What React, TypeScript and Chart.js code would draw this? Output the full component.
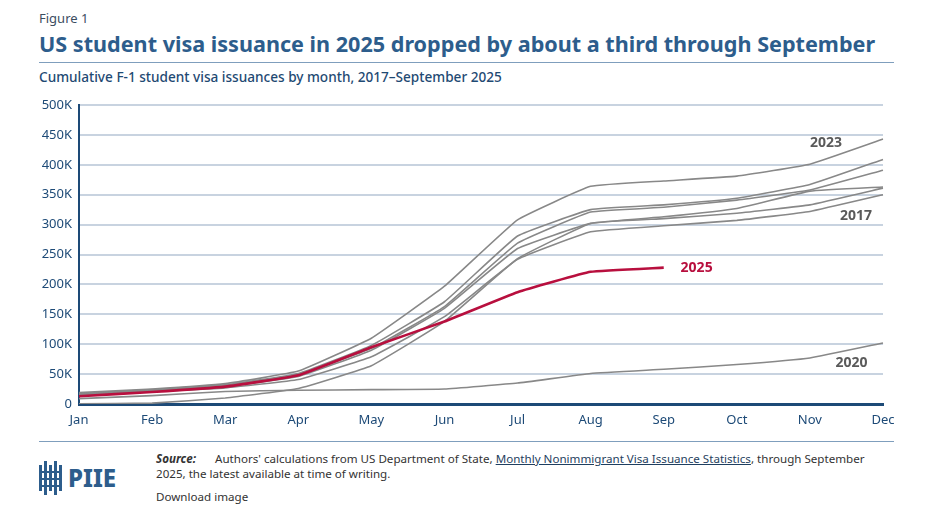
import { useEffect, useRef } from "react";
import { Chart, registerables } from "chart.js";

Chart.register(...registerables);

// Months on the x axis
const months = ["Jan", "Feb", "Mar", "Apr", "May", "Jun", "Jul", "Aug", "Sep", "Oct", "Nov", "Dec"];

// Y-axis tick values (visas)
const yTickValues = [0, 50000, 100000, 150000, 200000, 250000, 300000, 350000, 400000, 450000, 500000];

// Cumulative F-1 issuances, thousands
const y2017 = [15, 21, 27, 41, 79, 146, 242, 288, 298, 307, 322, 350];
const y2019 = [16, 22, 29, 46, 90, 160, 260, 302, 313, 327, 356, 363];
const y2020 = [9, 14, 21, 23, 24, 25, 35, 51, 58, 66, 77, 102];
const y2021 = [0.5, 1.5, 10, 26, 64, 138, 243, 302, 310, 319, 333, 361];
const y2022 = [17, 24, 32, 51, 98, 171, 281, 325, 333, 344, 367, 409];
const y2023 = [19, 25, 34, 55, 110, 197, 308, 364, 373, 381, 401, 443];
const y2024 = [17, 23, 31, 49, 93, 163, 269, 321, 329, 341, 358, 391];
const y2025 = [13, 20, 29, 48, 95, 138, 187, 221, 228];

const pastYears: [string, number[]][] = [
  ["2017", y2017],
  ["2019", y2019],
  ["2020", y2020],
  ["2021", y2021],
  ["2022", y2022],
  ["2023", y2023],
  ["2024", y2024],
];

// Direct labels next to selected lines: [text, month position, value in thousands, highlight]
const lineLabels: [string, number, number, boolean][] = [
  ["2023", 10.22, 436, false],
  ["2017", 10.63, 314, false],
  ["2025", 8.45, 227, true],
  ["2020", 10.57, 69, false],
];

const NAVY = "#1d4a77";
const TITLE_BLUE = "#2d5d8c";
const GRAY = "#888888";
const RED = "#b80f3e";
const FONT = "'Noto Sans', sans-serif";

const lineLabelPlugin = {
  id: "lineLabels",
  afterDatasetsDraw(chart: any) {
    const { ctx, scales } = chart;
    ctx.save();
    ctx.font = `bold 14px ${FONT}`;
    ctx.textAlign = "center";
    ctx.textBaseline = "middle";
    for (const [text, pos, val, hi] of lineLabels) {
      const x = scales.x.getPixelForValue(pos);
      const y = scales.y.getPixelForValue(val * 1000);
      ctx.fillStyle = hi ? RED : "#5a5a5a";
      ctx.fillText(text, x, y);
    }
    ctx.restore();
  },
};

function VisaChart() {
  const ref = useRef<HTMLCanvasElement>(null);

  useEffect(() => {
    if (!ref.current) return;
    const datasets: any[] = pastYears.map(([label, vals]) => ({
      label,
      data: vals.map((v) => v * 1000),
      borderColor: GRAY,
      borderWidth: 1.6,
      pointRadius: 0,
      tension: 0.1,
      order: 1,
    }));
    datasets.push({
      label: "2025",
      data: y2025.map((v) => v * 1000),
      borderColor: RED,
      borderWidth: 2.6,
      pointRadius: 0,
      tension: 0.1,
      order: 0,
    });

    const chart = new Chart(ref.current, {
      type: "line",
      data: { labels: months, datasets },
      options: {
        animation: false,
        responsive: false,
        devicePixelRatio: 1,
        layout: { padding: { left: 0, right: 51, top: 15, bottom: 0 } },
        plugins: { legend: { display: false }, tooltip: { enabled: false } },
        scales: {
          x: {
            type: "category",
            offset: false,
            grid: { display: false, drawTicks: false },
            border: { color: NAVY, width: 3 },
            ticks: {
              color: NAVY,
              font: { family: FONT, size: 13 },
              padding: 8,
              maxRotation: 0,
              autoSkip: false,
            },
            afterFit(scale: any) {
              scale.height = 31;
              scale.paddingLeft = 0;
              scale.paddingRight = 0;
            },
          },
          y: {
            min: 0,
            max: 500000,
            afterBuildTicks(scale: any) {
              scale.ticks = yTickValues.map((value) => ({ value }));
            },
            grid: { color: "#c8d3e0", lineWidth: 2, drawTicks: false },
            border: { color: NAVY, width: 2 },
            ticks: {
              color: NAVY,
              font: { family: FONT, size: 13 },
              padding: 7,
              callback: (v: any) => (v === 0 ? "0" : `${v / 1000}K`),
            },
            afterFit(scale: any) {
              scale.width = 79;
              scale.paddingTop = 0;
              scale.paddingBottom = 0;
            },
          },
        },
      },
      plugins: [lineLabelPlugin],
    });
    return () => chart.destroy();
  }, []);

  return (
    <canvas
      ref={ref}
      width={934}
      height={345}
      style={{ position: "absolute", left: 0, top: 90, width: 934, height: 345 }}
    />
  );
}

function Logo() {
  const bars = [0, 5, 10, 15, 20];
  return (
    <svg width={26} height={34} style={{ position: "absolute", left: 39, top: 461 }}>
      {bars.map((x, i) => (
        <rect key={i} x={x} y={i % 2 === 0 ? 4 : 0} width={3} height={i % 2 === 0 ? 26 : 34} fill={TITLE_BLUE} />
      ))}
      <rect x={0} y={10} width={23} height={2} fill={TITLE_BLUE} />
      <rect x={0} y={17} width={23} height={2} fill={TITLE_BLUE} />
      <rect x={0} y={24} width={23} height={2} fill={TITLE_BLUE} />
    </svg>
  );
}

export default function App() {
  useEffect(() => {
    document.body.style.margin = "0";
  }, []);
  const text = (extra: any) => ({ position: "absolute" as const, fontFamily: FONT, whiteSpace: "nowrap" as const, ...extra });
  return (
    <div style={{ position: "relative", width: 934, height: 509, background: "#fff", overflow: "hidden" }}>
      <div style={text({ left: 39, top: 9, fontSize: 13, lineHeight: "18px", color: "#3c4d5f" })}>Figure 1</div>
      <div style={text({ left: 39, top: 31, fontSize: 21.6, lineHeight: "26px", fontWeight: 700, color: TITLE_BLUE })}>
        US student visa issuance in 2025 dropped by about a third through September
      </div>
      <div style={{ position: "absolute", left: 39, top: 62, width: 855, height: 1, background: "#7f9ebd" }} />
      <div style={text({ left: 39, top: 68, fontSize: 13.6, lineHeight: "18px", fontWeight: 500, color: "#1f4a73" })}>
        Cumulative F-1 student visa issuances by month, 2017–September 2025
      </div>
      <VisaChart />
      <div style={{ position: "absolute", left: 39, top: 441, width: 855, height: 1, background: "#7f9ebd" }} />
      <Logo />
      <div style={text({ left: 68, top: 464, fontSize: 24, lineHeight: "28px", fontWeight: 800, color: TITLE_BLUE })}>PIIE</div>
      <div style={text({ left: 156, top: 451, fontSize: 11.6, lineHeight: "16px", color: "#333" })}>
        <b><i>Source:</i></b>
        <span style={{ marginLeft: 19 }}>Authors' calculations from US Department of State, </span>
        <span style={{ textDecoration: "underline", color: "#1f3f60" }}>Monthly Nonimmigrant Visa Issuance Statistics</span>
        <span>, through September</span>
      </div>
      <div style={text({ left: 156, top: 466, fontSize: 11.6, lineHeight: "16px", color: "#333" })}>
        2025, the latest available at time of writing.
      </div>
      <div style={text({ left: 156, top: 489, fontSize: 11.6, lineHeight: "16px", color: "#333" })}>Download image</div>
    </div>
  );
}
